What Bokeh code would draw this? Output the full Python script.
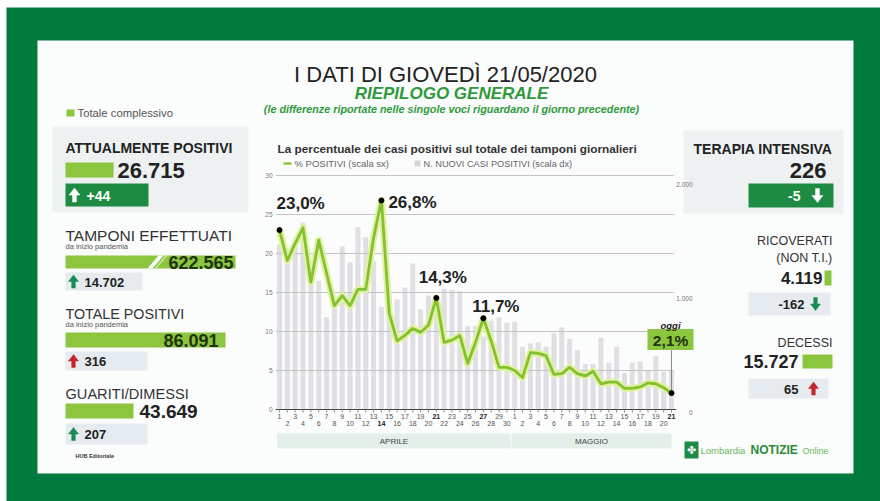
from bokeh.plotting import figure
from bokeh.models import Range1d
from bokeh.embed import file_html
from bokeh.resources import INLINE
from bokeh.core.properties import value

# ---------------- data ----------------
april_days = list(range(1, 31))
may_days = list(range(1, 22))
day_labels = [str(d) for d in april_days] + [str(d) for d in may_days]
month_names = ["APRILE", "MAGGIO"]
pct_positive = [23.0, 19.1, 21.3, 23.3, 16.3, 21.7, 17.5, 13.3, 14.6, 13.3,
                15.4, 15.4, 22.0, 26.8, 12.3, 8.8, 9.5, 10.4, 9.9, 10.8,
                14.3, 8.6, 8.9, 9.5, 5.9, 8.6, 11.7, 8.8, 5.4, 5.4,
                5.0, 4.1, 7.3, 7.2, 6.9, 4.5, 4.6, 5.4, 4.6, 4.3,
                4.9, 3.3, 3.5, 3.5, 2.7, 2.7, 2.9, 3.4, 3.3, 2.8, 2.1]
new_cases = [1450, 1350, 1440, 1640, 1220, 1130, 810, 980, 1430, 1290,
             1600, 1510, 1300, 900, 1000, 965, 1070, 1280, 880, 1000,
             1000, 1060, 1050, 1040, 730, 730, 640, 780, 810, 760,
             770, 550, 580, 590, 550, 670, 720, 620, 520, 400,
             400, 630, 410, 550, 320, 410, 420, 340, 470, 330, 340]
highlight_idx = [0, 13, 20, 26, 50]
highlight_labels = ["23,0%", "26,8%", "14,3%", "11,7%", "2,1%"]
left_ticks = [0, 5, 10, 15, 20, 25, 30]
right_ticks = [0, 1000, 2000]
right_tick_labels = ["0", "1.000", "2.000"]

# summary figures
attualmente_positivi, attualmente_diff = "26.715", "+44"
tamponi, tamponi_diff = "622.565", "14.702"
totale_positivi, totale_diff = "86.091", "316"
guariti, guariti_diff = "43.649", "207"
terapia, terapia_diff = "226", "-5"
ricoverati, ricoverati_diff = "4.119", "-162"
decessi, decessi_diff = "15.727", "65"

# ---------------- canvas ----------------
W, H = 880, 501
L, R, T, B = 0, W, 0, H
FONT = "Liberation Sans"

p = figure(width=W, height=H, x_range=Range1d(L, R), y_range=Range1d(B, T),
           output_backend="svg", toolbar_location=None, min_border=0,
           x_axis_location=None, y_axis_location=None, title=None)
p.grid.visible = False
p.outline_line_color = None
p.background_fill_color = "white"
p.border_fill_color = "white"

# chart scales (pixel layout of chart area)
X_FIRST, X_LAST = 279.0, 671.0
n = len(pct_positive)
DX = (X_LAST - X_FIRST) / (n - 1)
Y_BASE, Y_TOP = 409.0, 175.0
PY = (Y_BASE - Y_TOP) / 30.0
PC = (Y_BASE - 181.0) / 2000.0
p.extra_x_ranges = {"day": Range1d((L - X_FIRST) / DX, (R - X_FIRST) / DX)}
p.extra_y_ranges = {"pct": Range1d((Y_BASE - B) / PY, (Y_BASE - T) / PY),
                    "cases": Range1d((Y_BASE - B) / PC, (Y_BASE - T) / PC)}
idx = list(range(n))


def box(l, r, t, b, color, **kw):
    p.quad(left=[l], right=[r], top=[t], bottom=[b], fill_color=color,
           line_color=None, **kw)


def txt(x, y, s, size, color="#222222", style="normal", align="left",
        baseline="middle", font=FONT, **kw):
    p.text(x=[x], y=[y], text=[s], text_font=value(font),
           text_font_size=f"{size}px", text_color=color,
           text_font_style=style, text_align=align, text_baseline=baseline, **kw)


def arrow(xc, yc, up, color, h=13.0, w=10.0):
    sgn = -1 if up else 1
    tip = yc + sgn * h / 2
    base = tip - sgn * h * 0.5
    tail = yc - sgn * h / 2
    sw = w * 0.36
    xs = [xc, xc + w / 2, xc + sw / 2, xc + sw / 2, xc - sw / 2, xc - sw / 2, xc - w / 2]
    ys = [tip, base, base, tail, tail, base, base]
    p.patch(xs, ys, fill_color=color, line_color=color, line_width=0.5)


GREEN_DARK = "#1e8b43"
LIME = "#8cc63e"
PANEL = "#edf1f2"
CHIP = "#e5ebee"
RED = "#c0282d"
ARROW_G = "#1a8a55"

# frame and card
box(6, R, 7, B, "#017a3d")
box(37, 853, 40, 473, "#fbfcfc")

# ---------------- headings ----------------
txt(445, 73.5, "I DATI DI GIOVEDÌ 21/05/2020", 22, "#222222", align="center")
txt(451, 92.5, "RIEPILOGO GENERALE", 17, "#2f9a3c", style="bold italic", align="center")
txt(451, 108.5, "(le differenze riportate nelle singole voci riguardano il giorno precedente)",
    10.8, "#2f9a3c", style="bold italic", align="center")
box(66, 74, 109, 116, LIME)
txt(77, 112.5, "Totale complessivo", 11.3, "#555555")

# ---------------- left column ----------------
box(52, 248, 126, 212, PANEL)
txt(65, 147, "ATTUALMENTE POSITIVI", 14, "#222222", style="bold")
box(65, 113, 162, 177, LIME)
txt(117, 170, attualmente_positivi, 22, "#222222", style="bold")
box(65, 148, 183, 206, GREEN_DARK)
arrow(74, 194.5, True, "white", h=14, w=11)
txt(86, 195, attualmente_diff, 14, "white", style="bold")

txt(65, 235, "TAMPONI EFFETTUATI", 15.5, "#333333")
txt(65, 246, "da inizio pandemia", 7.5, "#555555")
box(65, 235, 255, 268, LIME)
p.patch([147, 152, 163, 158], [268, 268, 255, 255], fill_color="white", line_color=None)
p.patch([154, 156, 167, 165], [268, 268, 255, 255], fill_color="#c9e6a4", line_color=None)
txt(233, 262, tamponi, 18, "#1e3510", style="bold", align="right")
box(65, 142, 272, 290, CHIP)
arrow(73, 281, True, ARROW_G, h=13, w=10)
txt(84, 281.5, tamponi_diff, 13, "#222222", style="bold")

txt(65, 313, "TOTALE POSITIVI", 14.3, "#333333")
txt(65, 324, "da inizio pandemia", 7.5, "#555555")
box(65, 225, 332, 347, LIME)
txt(218, 340, totale_positivi, 18, "#1e3510", style="bold", align="right")
box(65, 147, 351, 370, CHIP)
arrow(73, 360.5, True, RED, h=13, w=10)
txt(84, 361, totale_diff, 13, "#222222", style="bold")

txt(65, 393, "GUARITI/DIMESSI", 14.6, "#333333")
box(65, 133, 403, 418, LIME)
txt(139, 410.5, guariti, 19, "#222222", style="bold")
box(65, 147, 423, 444, CHIP)
arrow(73, 433.5, True, ARROW_G, h=13, w=10)
txt(84, 434, guariti_diff, 13, "#222222", style="bold")
txt(75, 455, "HUB Editoriale", 5.5, "#333333", style="bold")

# ---------------- right column ----------------
box(683, 843, 130, 213, PANEL)
txt(832, 148, "TERAPIA INTENSIVA", 14, "#222222", style="bold", align="right")
txt(826, 170, terapia, 22, "#222222", style="bold", align="right")
box(748, 833, 183, 207, GREEN_DARK)
txt(800, 195.5, terapia_diff, 14, "white", style="bold", align="right")
arrow(817, 195, False, "white", h=14, w=11)

txt(832, 240, "RICOVERATI", 12.5, "#333333", align="right")
txt(832, 257, "(NON T.I.)", 12.5, "#333333", align="right")
txt(822, 277.5, ricoverati, 17, "#222222", style="bold", align="right")
box(824, 831, 270, 285, LIME)
box(748, 830, 292, 315, CHIP)
txt(804, 304, ricoverati_diff, 13, "#222222", style="bold", align="right")
arrow(815, 303.5, False, ARROW_G, h=13, w=10)

txt(832, 342, "DECESSI", 12.5, "#333333", align="right")
txt(798, 360.5, decessi, 18, "#222222", style="bold", align="right")
box(802, 832, 354, 368, LIME)
box(748, 828, 378, 398, CHIP)
txt(798, 388.5, decessi_diff, 13, "#222222", style="bold", align="right")
arrow(813, 388, True, RED, h=13, w=10)

# logo
box(684, 698, 441, 458, GREEN_DARK)
txt(691, 449.5, "✤", 11, "white", align="center", font="DejaVu Sans")
txt(700, 449.5, "Lombardia", 9.5, "#6cb85a")
txt(750, 449, "NOTIZIE", 12, "#2a8a3a", style="bold")
txt(802, 450, "Online", 9, "#6cb85a")

# ---------------- chart ----------------
txt(277, 148, "La percentuale dei casi positivi sul totale dei tamponi giornalieri",
    11.8, "#333333", style="bold")
p.segment(x0=[283], x1=[291], y0=[163], y1=[163], line_color=LIME, line_width=2.5)
txt(294, 163, "% POSITIVI (scala sx)", 9.5, "#666666")
box(414, 420, 160, 166, "#d4d4d8")
txt(423, 163, "N. NUOVI CASI POSITIVI (scala dx)", 9.2, "#666666")

# month bands
p.quad(left=[-0.3, 29.6], right=[29.45, 50.0], top=[433, 433], bottom=[448, 448],
       x_range_name="day", fill_color="#e3efe8", line_color=None)
p.text(x=[14.6, 39.8], y=[440.5, 440.5], text=month_names, x_range_name="day",
       text_font=value(FONT), text_font_size="8px", text_color="#444444",
       text_align="center", text_baseline="middle")

# bars (right scale)
p.vbar(x=idx, top=new_cases, bottom=0, width=0.64, x_range_name="day",
       y_range_name="cases", fill_color="#e0e0e4", line_color=None)

# gridlines
gt = left_ticks[1:]
p.segment(x0=[-0.45] * len(gt), x1=[50.3] * len(gt), y0=gt, y1=gt,
          x_range_name="day", y_range_name="pct", line_color="#c4c4c4", line_width=1)
p.text(x=[272] * len(left_ticks), y=left_ticks, text=[str(t) for t in left_ticks],
       y_range_name="pct", text_font=value(FONT), text_font_size="6.5px",
       text_color="#777777", text_align="right", text_baseline="middle")
p.text(x=[692] * len(right_ticks), y=right_ticks, text=right_tick_labels,
       y_range_name="cases", text_font=value(FONT), text_font_size="6.5px",
       text_color="#777777", text_align="right", text_baseline="top")

# x axis
p.segment(x0=[-0.5], x1=[50.6], y0=[0], y1=[0], x_range_name="day",
          y_range_name="pct", line_color="#444444", line_width=1.2)
p.segment(x0=idx, x1=idx, y0=[409] * n, y1=[412] * n, x_range_name="day",
          line_color="#777777", line_width=0.8)
bold_set = set(highlight_idx[1:])
for row, yrow in ((0, 415.5), (1, 423)):
    norm = [i for i in idx if i % 2 == row and i not in bold_set]
    bold = [i for i in idx if i % 2 == row and i in bold_set]
    p.text(x=norm, y=[yrow] * len(norm), text=[day_labels[i] for i in norm],
           x_range_name="day", text_font=value(FONT), text_font_size="7px",
           text_color="#555555", text_align="center", text_baseline="middle")
    if bold:
        p.text(x=bold, y=[yrow] * len(bold), text=[day_labels[i] for i in bold],
               x_range_name="day", text_font=value(FONT), text_font_size="7px",
               text_color="#222222", text_font_style="bold",
               text_align="center", text_baseline="middle")

# positivity line
p.line(x=idx, y=pct_positive, x_range_name="day", y_range_name="pct",
       line_color="#e0f1a2", line_width=7, line_join="round")
p.line(x=idx, y=pct_positive, x_range_name="day", y_range_name="pct",
       line_color="#84c131", line_width=2.8, line_join="round")

# today's connector + box
last = highlight_idx[-1]
px_last = X_FIRST + last * DX
py_last = Y_BASE - pct_positive[last] * PY
p.segment(x0=[px_last], x1=[px_last], y0=[py_last - 43], y1=[py_last],
          line_color="#888888", line_width=1)
box(px_last - 24, px_last + 22, py_last - 64, py_last - 43, LIME)
txt(px_last - 1, py_last - 53, highlight_labels[-1], 15.5, "#1e3510", style="bold", align="center")
txt(px_last - 1, py_last - 68, "oggi", 9.5, "#222222", style="bold italic", align="center")

p.scatter(x=highlight_idx, y=[pct_positive[i] for i in highlight_idx],
          x_range_name="day", y_range_name="pct", size=5, color="black")

# peak labels (pixel offsets from their points)
lab_dx = [-3, 7, 6.5, 12.5]
lab_dy = [-26.6, 2, -20.5, -11.7]
lab_align = ["left", "left", "center", "center"]
for k in range(4):
    i = highlight_idx[k]
    p.text(x=[i + lab_dx[k] / DX], y=[pct_positive[i] - lab_dy[k] / PY],
           text=[highlight_labels[k]], x_range_name="day", y_range_name="pct",
           text_font=value(FONT), text_font_size="17px", text_font_style="bold",
           text_color="#222222", text_align=lab_align[k], text_baseline="middle")

open("out.html", "w").write(file_html(p, INLINE))
